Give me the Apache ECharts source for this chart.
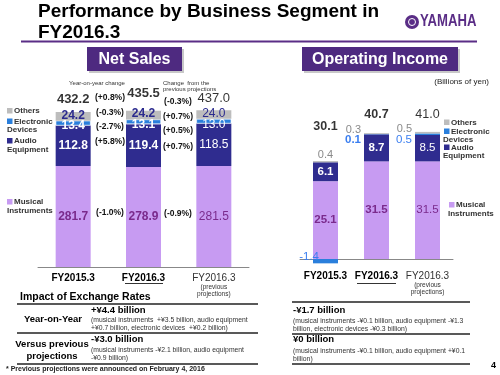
<!DOCTYPE html>
<html>
<head>
    <meta charset="UTF-8">
    <title>Performance by Business Segment</title>
</head>
<body style="margin: 0;overflow: hidden;background: #fff;">
<div id="main" style="width: 500px;height: 375px;"></div>
<script type="text/javascript" src="https://cdn.jsdelivr.net/npm/echarts@6/dist/echarts.min.js"></script>
<script>
    var categories = ['FY2015.3', 'FY2016.3', 'FY2016.3 proj'];
    // net sales (billions of yen)
    var nsMusical = [281.7, 278.9, 281.5];
    var nsAudio = [112.8, 119.4, 118.5];
    var nsElectronic = [13.4, 13.1, 13.0];
    var nsOthers = [24.2, 24.2, 24.0];
    var nsTotal = [432.2, 435.5, 437.0];
    // operating income
    var oiMusical = [25.1, 31.5, 31.5];
    var oiAudio = [6.1, 8.7, 8.5];
    var oiElectronic = [-1.4, 0.1, 0.5];
    var oiOthers = [0.4, 0.3, 0.5];
    var oiTotal = [30.1, 40.7, 41.0];
    // change labels between bars
    var yoyChange = ['(+0.8%)', '(-0.3%)', '(-2.7%)', '(+5.8%)', '(-1.0%)'];
    var projChange = ['(-0.3%)', '(+0.7%)', '(+0.5%)', '(+0.7%)', '(-0.9%)'];

    var FONT = '"Liberation Sans", Arial, sans-serif';
    var C_MUS = '#c79bf2', C_AUD = '#2f2c8f', C_ELE = '#2a7fdc', C_OTH = '#bdbdbd';
    var C_PURPLE = '#4e2a80';

    var chart = echarts.init(document.getElementById('main'));

    function T(text, x, y, size, weight, color, align) {
        return {
            type: 'text', x: x, y: y, silent: true,
            style: {
                text: text, fontFamily: FONT, fontSize: size, fontWeight: weight || 'normal',
                fill: color || '#000', textAlign: align || 'left', textVerticalAlign: 'middle'
            }
        };
    }
    function R(x, y, w, h, color) {
        return {type: 'rect', shape: {x: x, y: y, width: w, height: h}, style: {fill: color}, silent: true};
    }
    function L(x1, y1, x2, y2, color, w) {
        return {type: 'line', shape: {x1: x1, y1: y1, x2: x2, y2: y2}, style: {stroke: color, lineWidth: w}, silent: true};
    }

    // weight per bar: actual results bold, projections normal
    function items(arr, extra) {
        return arr.map(function (v, i) {
            var lab = {fontWeight: i < 2 ? 'bold' : 'normal'};
            if (extra && extra[i]) {
                for (var k in extra[i]) lab[k] = extra[i][k];
            }
            return {value: v, label: lab};
        });
    }

    var axisLabel = {
        margin: 5,
        interval: 0,
        formatter: function (v, i) {
            if (i === 0) return '{a|FY2015.3}';
            if (i === 1) return '{a|FY2016.3}';
            return '{b|FY2016.3}\n{c|(previous}\n{c|projections)}';
        },
        rich: {
            a: {fontFamily: FONT, fontSize: 10, fontWeight: 'bold', color: '#000', lineHeight: 12},
            b: {fontFamily: FONT, fontSize: 10, color: '#333', lineHeight: 12},
            c: {fontFamily: FONT, fontSize: 6.5, color: '#333', lineHeight: 7}
        }
    };

    var graphic = [
        T('Performance by Business Segment in', 38, 12, 19, 'bold', '#000'),
        T('FY2016.3', 38, 33, 19, 'bold', '#000'),
        L(21, 41.5, 477, 41.5, '#5a2d86', 2),
        {type: 'circle', shape: {cx: 412, cy: 22, r: 7}, style: {fill: '#5a2d86'}, silent: true},
        {type: 'circle', shape: {cx: 412, cy: 22, r: 3.5}, style: {fill: 'none', stroke: '#fff', lineWidth: 1}, silent: true},
        {type: 'text', x: 420, y: 22, scaleX: 0.82, silent: true,
            style: {text: 'YAMAHA', fontFamily: FONT, fontSize: 16, fontWeight: 'bold', fill: '#5a2d86', textVerticalAlign: 'middle'}},
        // banners
        R(89, 49, 95, 24, '#c8c8c8'),
        R(87, 47, 95, 24, C_PURPLE),
        T('Net Sales', 134.5, 59.5, 16, 'bold', '#fff', 'center'),
        R(304, 49, 156, 24, '#c8c8c8'),
        R(302, 47, 156, 24, C_PURPLE),
        T('Operating Income', 380, 59.5, 16, 'bold', '#fff', 'center'),
        T('(Billions of yen)', 489, 82, 8, 'normal', '#222', 'right'),
        // net sales notes
        T('Year-on-year change', 97, 83, 6, 'normal', '#333', 'center'),
        T('Change  from the', 163, 83, 6, 'normal', '#333'),
        T('previous projections', 163, 89.5, 6, 'normal', '#333'),
        // legend left
        R(7, 108, 5.5, 5.5, C_OTH), T('Others', 14, 111, 8, 'bold', '#333'),
        R(7, 118.5, 5.5, 5.5, C_ELE), T('Electronic', 14, 121.5, 8, 'bold', '#333'), T('Devices', 7, 130, 8, 'bold', '#333'),
        R(7, 138, 5.5, 5.5, C_AUD), T('Audio', 14, 141, 8, 'bold', '#333'), T('Equipment', 7, 149.5, 8, 'bold', '#333'),
        R(7, 199, 5.5, 5.5, C_MUS), T('Musical', 14, 202, 8, 'bold', '#333'), T('Instruments', 7, 210.5, 8, 'bold', '#333'),
        // legend right
        R(444, 119.5, 5.5, 5.5, C_OTH), T('Others', 451, 122.5, 8, 'bold', '#333'),
        R(444, 128.5, 5.5, 5.5, C_ELE), T('Electronic', 451, 131.5, 8, 'bold', '#333'), T('Devices', 443, 140, 8, 'bold', '#333'),
        R(444, 144.5, 5.5, 5.5, C_AUD), T('Audio', 451, 147.5, 8, 'bold', '#333'), T('Equipment', 443, 156, 8, 'bold', '#333'),
        R(449, 202, 5.5, 5.5, C_MUS), T('Musical', 456, 205, 8, 'bold', '#333'), T('Instruments', 448, 213.5, 8, 'bold', '#333'),
        // underline of the current year labels
        L(125, 283.5, 163, 283.5, '#000', 0.8),
        L(357, 283.5, 396, 283.5, '#000', 0.8),
        // exchange rates table
        T('Impact of Exchange Rates', 20, 297, 10.5, 'bold', '#000'),
        L(17, 304, 258, 304, '#222', 1.5),
        L(17, 333, 258, 333, '#222', 1.5),
        L(17, 364, 258, 364, '#222', 1.5),
        L(292, 302, 470, 302, '#222', 1.5),
        L(292, 334, 470, 334, '#222', 1.5),
        L(292, 364, 470, 364, '#222', 1.5),
        T('Year-on-Year', 53, 319, 9.5, 'bold', '#000', 'center'),
        T('Versus previous', 52, 344, 9.5, 'bold', '#000', 'center'),
        T('projections', 52, 356, 9.5, 'bold', '#000', 'center'),
        T('+\u00a54.4 billion', 91, 310, 9.5, 'bold', '#000'),
        T('(musical instruments  +\u00a53.5 billion, audio equipment', 91, 320, 6.8, 'normal', '#333'),
        T('+\u00a50.7 billion, electronic devices  +\u00a50.2 billion)', 91, 328.5, 6.8, 'normal', '#333'),
        T('-\u00a53.0 billion', 91, 339, 9.5, 'bold', '#000'),
        T('(musical instruments -\u00a52.1 billion, audio equipment', 91, 350, 6.8, 'normal', '#333'),
        T('-\u00a50.9 billion)', 91, 358.5, 6.8, 'normal', '#333'),
        T('-\u00a51.7 billion', 293, 310, 9.5, 'bold', '#000'),
        T('(musical instruments -\u00a50.1 billion, audio equipment -\u00a51.3', 293, 321, 6.8, 'normal', '#333'),
        T('billion, electronic devices -\u00a50.3 billion)', 293, 329, 6.8, 'normal', '#333'),
        T('\u00a50 billion', 293, 339.5, 9.5, 'bold', '#000'),
        T('(musical instruments -\u00a50.1 billion, audio equipment +\u00a50.1', 293, 351, 6.8, 'normal', '#333'),
        T('billion)', 293, 359, 6.8, 'normal', '#333'),
        T('* Previous projections were announced on February 4, 2016', 6, 369.5, 7, 'bold', '#222'),
        T('4', 496, 366, 9, 'bold', '#000', 'right')
    ];
    // change percentages between bars
    var yoyY = [98, 113, 127, 142, 213];
    var projY = [102, 117, 131, 147, 214];
    yoyChange.forEach(function (s, i) { graphic.push(T(s, 110, yoyY[i], 8.5, 'bold', '#111', 'center')); });
    projChange.forEach(function (s, i) { graphic.push(T(s, 178, projY[i], 8.5, 'bold', '#111', 'center')); });

    var fmt = function (p) { return Number(p.value).toFixed(1); };
    var lab = function (color, size, extra) {
        var o = {show: true, position: 'inside', color: color, fontFamily: FONT, fontSize: size, formatter: fmt};
        for (var k in extra) o[k] = extra[k];
        return o;
    };

    var option = {
        animation: false,
        backgroundColor: '#fff',
        graphic: graphic,
        grid: [
            {left: 38, right: 251, top: 105.6, bottom: 108},
            {left: 300, right: 47, top: 119.5, bottom: 109.8}
        ],
        xAxis: [
            {type: 'category', gridIndex: 0, data: categories,
                axisLine: {lineStyle: {color: '#888'}}, axisTick: {length: 3, lineStyle: {color: '#888'}},
                axisLabel: axisLabel},
            {type: 'category', gridIndex: 1, data: categories,
                axisLine: {onZero: true, lineStyle: {color: '#888'}}, axisTick: {length: 3, lineStyle: {color: '#888'}},
                axisLabel: axisLabel}
        ],
        yAxis: [
            {type: 'value', gridIndex: 0, min: 0, max: 450, show: false, splitLine: {show: false}},
            {type: 'value', gridIndex: 1, min: -2, max: 45, show: false, splitLine: {show: false}}
        ],
        series: [
            {name: 'Musical Instruments', type: 'bar', stack: 'ns', barWidth: 35,
                itemStyle: {color: C_MUS}, label: lab('#7a2a8c', 12),
                data: items(nsMusical)},
            {name: 'Audio Equipment', type: 'bar', stack: 'ns',
                itemStyle: {color: C_AUD}, label: lab('#fff', 12),
                data: items(nsAudio)},
            {name: 'Electronic Devices', type: 'bar', stack: 'ns',
                itemStyle: {color: C_ELE, borderColor: '#fff', borderWidth: 0.6}, label: lab('#fff', 12, {offset: [0, 3]}),
                data: items(nsElectronic)},
            {name: 'Others', type: 'bar', stack: 'ns',
                itemStyle: {color: C_OTH}, label: lab('#2b2a8e', 12, {offset: [0, -1]}),
                data: items(nsOthers)},
            {name: 'Total', type: 'scatter', symbolSize: 0, silent: true,
                label: lab('#000', 13, {position: 'top', distance: 0}),
                data: items(nsTotal, [{offset: [0, -6.5]}, {offset: [0, -11]}, {offset: [0, -5]}])},

            {name: 'Musical Instruments', type: 'bar', stack: 'oi', xAxisIndex: 1, yAxisIndex: 1, barWidth: 25,
                itemStyle: {color: C_MUS}, label: lab('#7a2a8c', 11.5),
                data: items(oiMusical)},
            {name: 'Audio Equipment', type: 'bar', stack: 'oi', xAxisIndex: 1, yAxisIndex: 1,
                itemStyle: {color: C_AUD}, label: lab('#fff', 11.5),
                data: items(oiAudio)},
            {name: 'Electronic Devices', type: 'bar', stack: 'oi', xAxisIndex: 1, yAxisIndex: 1,
                itemStyle: {color: C_ELE}, label: lab('#3a7ef0', 11.5, {position: 'left', distance: 3}),
                data: items(oiElectronic, [{offset: [9, -4], fontWeight: 'normal'}, {offset: [0, 6]}, {offset: [0, 6]}])},
            {name: 'Others', type: 'bar', stack: 'oi', xAxisIndex: 1, yAxisIndex: 1,
                itemStyle: {color: C_OTH}, label: lab('#8a8a8a', 11, {position: 'left', distance: 3, fontWeight: 'normal'}),
                data: items(oiOthers, [{position: 'top', distance: 1, fontWeight: 'normal'}, {offset: [0, -4], fontWeight: 'normal'}, {offset: [0, -4]}])},
            {name: 'Total', type: 'scatter', xAxisIndex: 1, yAxisIndex: 1, symbolSize: 0, silent: true,
                label: lab('#000', 12.5, {position: 'top', distance: 0}),
                data: items(oiTotal, [{offset: [0, -33]}, {offset: [0, -12]}, {offset: [0, -11]}])}
        ]
    };
    chart.setOption(option);
</script>
</body>
</html>
